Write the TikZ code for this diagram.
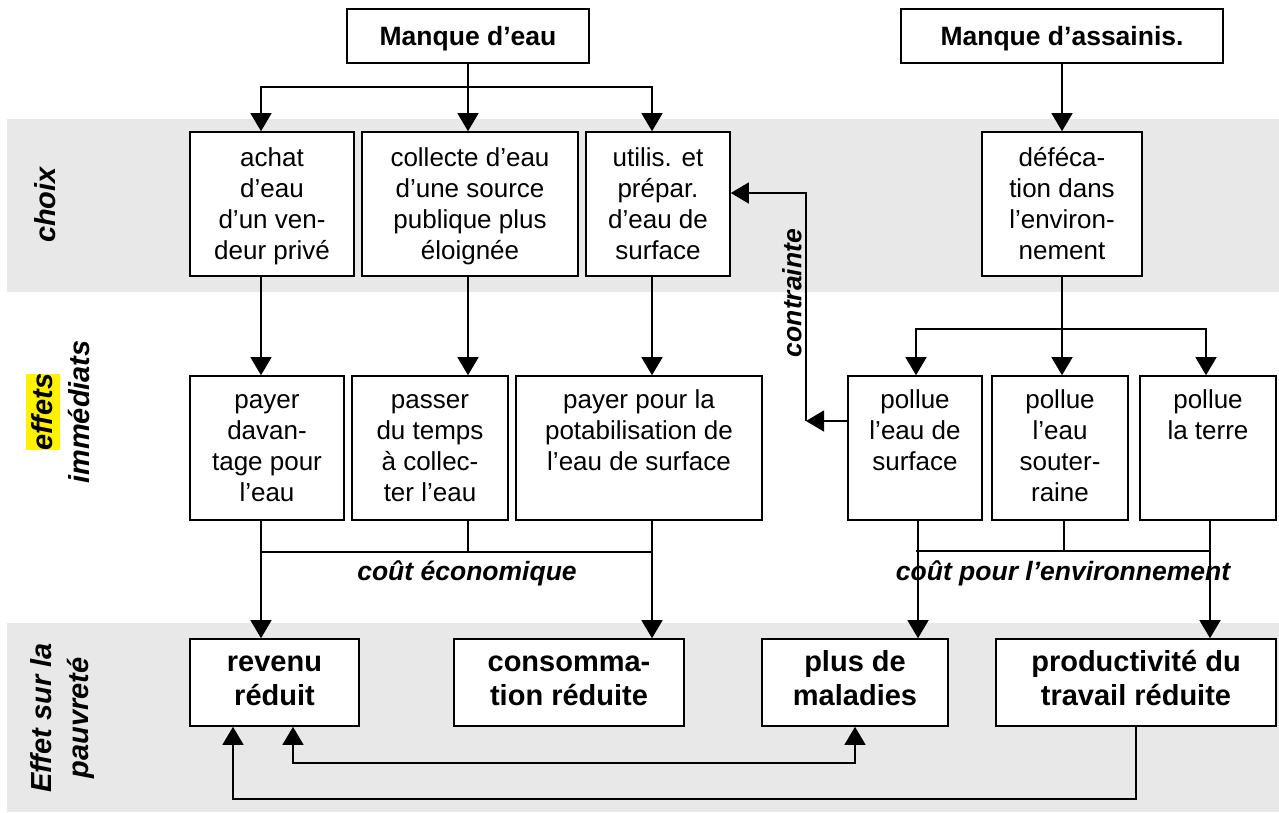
\documentclass[tikz,border=0pt]{standalone}
\usepackage{fontspec}
\setmainfont{Liberation Sans}
\usetikzlibrary{arrows.meta,positioning}

\definecolor{bandgray}{RGB}{232,232,232}
\newcommand{\topbox}[4][34pt]{\parbox[c][#3][t]{#2}{\centering\rule{0pt}{#1}#4}}

\begin{document}
\begin{tikzpicture}[x=1pt, y=-1pt,
		box/.style={draw, line width=1.6pt, fill=white, inner sep=0pt,
				font=\fontsize{26}{31}\selectfont},
		causebox/.style={box, font=\bfseries\fontsize{26.5}{30}\selectfont,
				text height=19pt, text depth=0pt},
		povbox/.style={box, font=\bfseries\fontsize{29}{34}\selectfont},
		link/.style={line width=1.3pt},
		arr/.style={link, -{Triangle[width=21pt, length=18pt]}},
		arrboth/.style={link, {Triangle[width=21pt, length=18pt]}-{Triangle[width=21pt, length=18pt]}},
		costlabel/.style={font=\bfseries\itshape\fontsize{26.5}{30}\selectfont},
		sidelabel/.style={rotate=90, align=center,
				font=\bfseries\itshape\fontsize{29}{37}\selectfont}
	]

	\useasboundingbox (0,0) rectangle (1279,812);

	% bandes grises
	\fill[bandgray] (7,119) rectangle (1279,292);
	\fill[bandgray] (7,623) rectangle (1279,812);

	\def \hrow {144pt}

	% causes
	\node[causebox, minimum width=242pt, minimum height=54pt] (eau) at (468,36) {Manque d’eau};
	\node[causebox, minimum width=322pt, minimum height=54pt] (assain) at (1062,36) {Manque d’assainis.};

	% choix
	\node[box] (achat) at (272,204) {\topbox{164pt}{\hrow}{achat\\d’eau\\d’un ven-\\deur privé}};
	\node[box] (collecte) at (470,204) {\topbox{216pt}{\hrow}{collecte d’eau\\d’une source\\publique plus\\éloignée}};
	\node[box] (utilis) at (658,204) {\topbox{144pt}{\hrow}{utilis. et\\prépar.\\d’eau de\\surface}};
	\node[box] (defec) at (1062,204) {\topbox{160pt}{\hrow}{déféca-\\tion dans\\l’environ-\\nement}};

	% effets immediats
	\node[box] (payer) at (267,448) {\topbox[32pt]{154pt}{\hrow}{payer\\davan-\\tage pour\\l’eau}};
	\node[box] (passer) at (430,448) {\topbox[32pt]{156pt}{\hrow}{passer\\du temps\\à collec-\\ter l’eau}};
	\node[box] (potab) at (639,448) {\topbox[32pt]{246pt}{\hrow}{payer pour la\\potabilisation de\\l’eau de surface}};
	\node[box] (psurf) at (915,448) {\topbox[32pt]{134pt}{\hrow}{pollue\\l’eau de\\surface}};
	\node[box] (psout) at (1060,448) {\topbox[32pt]{136pt}{\hrow}{pollue\\l’eau\\souter-\\raine}};
	\node[box] (pterre) at (1208,448) {\topbox[32pt]{136pt}{\hrow}{pollue\\la terre}};

	% effet sur la pauvrete
	\node[povbox] (revenu) at (274.5,682.5) {\topbox[32pt]{169pt}{87pt}{revenu\\réduit}};
	\node[povbox] (conso) at (569,682.5) {\topbox[32pt]{230pt}{87pt}{consomma-\\tion réduite}};
	\node[povbox] (maladies) at (855,682.5) {\topbox[32pt]{186pt}{87pt}{plus de\\maladies}};
	\node[povbox] (produc) at (1136,682.5) {\topbox[32pt]{280pt}{87pt}{productivité du\\travail réduite}};

	% etiquettes laterales
	\node[sidelabel] (choix-l) at (45,205) {choix};
	\node[sidelabel] (effets-l) at (58,412) {\setlength{\fboxsep}{0pt}\colorbox{yellow}{\rule[-8pt]{0pt}{34pt}effets}\\immédiats};
	\node[sidelabel] (pauv-l) at (63,718) {Effet sur la\\pauvreté};

	% manque -> choix
	\coordinate (eau-j) at (468,87);
	\draw[link] (eau.south) -- (eau-j);
	\foreach \n/\x in {achat/261, collecte/468, utilis/652} {
			\draw[arr] (eau-j) -| (\n.north -| \x,0);
		}
	\draw[arr] (assain) -- (defec);

	% choix -> effets
	\foreach \a/\b/\x in {achat/payer/261, collecte/passer/468, utilis/potab/652} {
			\draw[arr] (\a.south -| \x,0) -- (\b.north -| \x,0);
		}

	\coordinate (defec-j) at (1062,329);
	\draw[link] (defec) -- (defec-j);
	\foreach \n/\x in {psurf/916, psout/1062, pterre/1206} {
			\draw[arr] (defec-j) -| (\n.north -| \x,0);
		}

	% contrainte
	\coordinate (contr-c) at (806,421);
	\draw[arr] (psurf.west |- contr-c) -- (contr-c);
	\draw[arr] (contr-c) |- (utilis.east |- 0,193);
	\node[costlabel, rotate=90] (contr-l) at (792,293) {contrainte};

	% cout economique
	\coordinate (eco-j) at (468,552);
	\draw[arr] (payer.south -| 261,0) -- (revenu.north -| 261,0);
	\draw[arr] (potab.south -| 652,0) -- (conso.north -| 652,0);
	\draw[link] (passer.south -| eco-j) -- (eco-j);
	\draw[link] (eco-j -| 261,0) -- (eco-j -| 652,0);
	\node[costlabel] (eco-l) at (467,573) {coût économique};

	% cout pour l'environnement
	\coordinate (env-j) at (1064,551);
	\draw[arr] (psurf.south -| 918,0) -- (maladies.north -| 918,0);
	\draw[arr] (pterre.south -| 1210,0) -- (produc.north -| 1210,0);
	\draw[link] (psout.south -| env-j) -- (env-j);
	\draw[link] (env-j -| 916,0) -- (env-j -| 1210,0);
	\node[costlabel] (env-l) at (1063,573) {coût pour l’environnement};

	% retours
	\coordinate (fb-low) at (233,799);
	\draw[arr] (produc.south -| 1136,0) |- (fb-low) -- (revenu.south -| fb-low);
	\coordinate (fb-mid) at (293,763);
	\draw[arrboth] (revenu.south -| fb-mid) -- (fb-mid) -| (maladies.south -| 855,0);

\end{tikzpicture}
\end{document}
